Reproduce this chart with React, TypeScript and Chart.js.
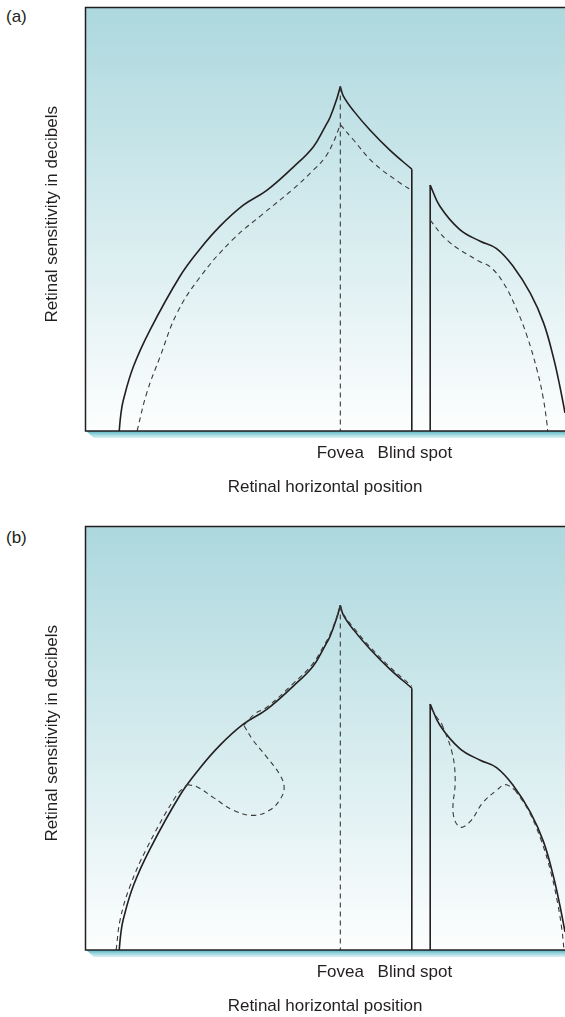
import React, { useEffect, useRef } from 'react';
import { Chart, registerables } from 'chart.js';

Chart.register(...registerables);

// ---- axis extents (x: eccentricity units, fovea = 0; y: sensitivity units) ----
const X_MIN = -50;
const X_MAX = 44;
const Y_MIN = 0;
const Y_MAX = 40;

// ---- tick labels and titles ----
const tickValues = [0, 14.6];
const tickLabels = ['Fovea', 'Blind spot'];
const xTitle = 'Retinal horizontal position';
const yTitle = '  Retinal sensitivity in decibels';
const panelLabels = ['(a)', '(b)'];

// ---- solid curve (normal field), same in both panels ----
const solidLeft = [[-43.3, 0], [-43.0, 1.5], [-42.5, 2.9], [-40.5, 6.1], [-37.3, 9.5], [-31.4, 14.6], [-27.6, 17.1], [-23.6, 19.3], [-19.0, 21.3], [-14.4, 22.7], [-9.2, 24.9], [-5.3, 26.8], [-3.0, 28.7], [-2.0, 29.6], [-0.65, 31.4], [0, 32.5]];
const solidFoveaRight = [[0, 32.5], [0.6, 31.6], [2.6, 30.2], [5.8, 28.4], [9.7, 26.5], [14.0, 24.7]];
const blindLeftEdge = [[14.0, 24.7], [14.0, 0]];
const blindRightEdge = [[17.6, 0], [17.6, 23.2]];
const solidRight = [[17.6, 23.2], [19.5, 21.2], [23.4, 19.0], [27.4, 17.9], [30.6, 17.2], [33.9, 15.5], [37.2, 13.0], [39.8, 10.2], [41.7, 7.0], [43.0, 4.2], [44.0, 1.7], [44.6, 0]];

// ---- fovea dashed vertical ----
const foveaLine = [[0, 32.5], [0, 0]];

// ---- panel (a) dashed curve ----
const dashedLeftA = [[-39.8, 0], [-37.9, 3.6], [-35.3, 7.0], [-32.0, 11.1], [-27.5, 14.5], [-21.2, 18.0], [-15.1, 20.5], [-9.3, 22.8], [-5.3, 24.6], [-3.0, 25.8], [-1.4, 27.2], [0, 28.9]];
const dashedMidA = [[0, 28.9], [2.5, 27.5], [6.5, 25.3], [11.7, 23.4], [14.0, 22.7]];
const dashedRightA = [[17.6, 19.9], [20.9, 18.0], [26.8, 16.1], [29.3, 15.5], [31.9, 14.0], [34.6, 11.4], [36.6, 8.9], [38.5, 5.8], [39.7, 3.2], [40.5, 0.6], [40.6, 0]];

// ---- panel (b) dashed curve (with scotomas) ----
const dashedLeftB = [[-43.9, 0], [-43.1, 2.9], [-41.2, 6.0], [-37.9, 9.6], [-32.2, 14.5], [-30.0, 15.6]];
const scotomaLeftB = [[-30.0, 15.6], [-28.1, 15.4], [-24.9, 14.4], [-21.0, 13.2], [-17.1, 12.7], [-13.8, 13.2], [-11.8, 14.2], [-11.0, 15.3], [-11.8, 16.5], [-14.4, 18.2], [-17.1, 19.8], [-18.9, 21.2]];
const dashedUpperB = [[-18.9, 21.2], [-16.7, 22.3], [-14.4, 22.9], [-9.3, 25.1], [-5.4, 27.0], [-3.0, 28.9], [-2.0, 29.8], [-0.65, 31.5], [0, 32.5]];
const dashedMidB = [[0, 32.5], [0.6, 31.7], [2.6, 30.4], [5.8, 28.6], [9.7, 26.7], [14.0, 24.9]];
const dashedRightTopB = [[17.8, 22.8], [18.7, 22.1], [19.9, 21.3]];
const scotomaRightB = [[19.9, 21.3], [21.9, 18.6], [22.5, 16.0], [22.1, 12.9], [23.4, 11.6], [25.4, 12.1], [27.9, 13.9], [30.7, 15.1], [32.3, 15.6], [34.2, 15.1]];
const dashedRightB = [[34.2, 15.1], [36.8, 13.2], [39.3, 10.4], [41.3, 7.2], [42.6, 4.3], [43.4, 1.9], [43.8, 0]];

const FONT = '"Liberation Sans", Arial, Helvetica, sans-serif';
const INK = '#231f20';
const DASH_INK = '#3a3a3a';

type Mode = 'curve' | 'straight';

function ds(points: number[][], dashed: boolean, mode: Mode) {
  return {
    data: points.map(([x, y]) => ({ x, y })),
    borderColor: dashed ? DASH_INK : INK,
    borderWidth: dashed ? 1.1 : 1.6,
    borderDash: dashed ? [5, 4] : [],
    pointRadius: 0,
    fill: false,
    tension: mode === 'curve' ? 0.4 : 0,
  };
}

const decorPlugin = {
  id: 'panelDecor',
  beforeDatasetsDraw(chart: any) {
    const { ctx, chartArea } = chart;
    const { left, right, top, bottom } = chartArea;
    ctx.save();
    const g = ctx.createLinearGradient(0, top, 0, bottom);
    g.addColorStop(0, '#acd8de');
    g.addColorStop(1, '#fdfefe');
    ctx.fillStyle = g;
    ctx.fillRect(left, top, right - left, bottom - top);
    ctx.restore();
  },
  afterDatasetsDraw(chart: any) {
    const { ctx, chartArea } = chart;
    const { left, right, top, bottom } = chartArea;
    ctx.save();
    // shadow band under the baseline
    const sg = ctx.createLinearGradient(0, bottom, 0, bottom + 7);
    sg.addColorStop(0, '#4fb2c1');
    sg.addColorStop(1, 'rgba(200,234,239,0.7)');
    ctx.fillStyle = sg;
    ctx.beginPath();
    ctx.moveTo(left + 1, bottom);
    ctx.lineTo(right + 2, bottom);
    ctx.lineTo(right + 2, bottom + 7);
    ctx.lineTo(left + 9, bottom + 7);
    ctx.closePath();
    ctx.fill();
    // frame: top, left, bottom
    ctx.strokeStyle = INK;
    ctx.lineWidth = 1.5;
    ctx.beginPath();
    ctx.moveTo(right + 2, top + 0.5);
    ctx.lineTo(left + 0.5, top + 0.5);
    ctx.lineTo(left + 0.5, bottom);
    ctx.lineTo(right + 2, bottom);
    ctx.stroke();
    ctx.restore();
  },
};

function makeConfig(panel: number): any {
  const solids = [
    ds(solidLeft, false, 'curve'),
    ds(solidFoveaRight, false, 'curve'),
    ds(blindLeftEdge, false, 'straight'),
    ds(blindRightEdge, false, 'straight'),
    ds(solidRight, false, 'curve'),
  ];
  const dashes =
    panel === 0
      ? [
          ds(foveaLine, true, 'straight'),
          ds(dashedLeftA, true, 'curve'),
          ds(dashedMidA, true, 'curve'),
          ds(dashedRightA, true, 'curve'),
        ]
      : [
          ds(foveaLine, true, 'straight'),
          ds(dashedLeftB, true, 'curve'),
          ds(scotomaLeftB, true, 'curve'),
          ds(dashedUpperB, true, 'curve'),
          ds(dashedMidB, true, 'curve'),
          ds(dashedRightTopB, true, 'curve'),
          ds(scotomaRightB, true, 'curve'),
          ds(dashedRightB, true, 'curve'),
        ];
  return {
    type: 'line',
    data: { datasets: [...dashes, ...solids] },
    options: {
      animation: false,
      responsive: false,
      events: [],
      layout: { padding: { top: 7, left: 0, right: 0, bottom: 0 } },
      plugins: {
        legend: { display: false },
        tooltip: { enabled: false },
        title: { display: false },
      },
      scales: {
        x: {
          type: 'linear',
          min: X_MIN,
          max: X_MAX,
          grid: { display: false, drawTicks: false },
          border: { display: false },
          afterBuildTicks: (scale: any) => {
            scale.ticks = tickValues.map((v) => ({ value: v }));
          },
          afterFit: (scale: any) => {
            scale.height = 67;
          },
          ticks: {
            autoSkip: false,
            maxRotation: 0,
            padding: 12,
            color: INK,
            font: { family: FONT, size: 17 },
            callback: (_v: any, i: number) => tickLabels[i],
          },
          title: {
            display: true,
            text: xTitle,
            color: INK,
            font: { family: FONT, size: 17 },
            padding: { top: 0, bottom: 0 },
          },
        },
        y: {
          type: 'linear',
          min: Y_MIN,
          max: Y_MAX,
          grid: { display: false, drawTicks: false },
          border: { display: false },
          ticks: { display: false },
          afterFit: (scale: any) => {
            scale.width = 85;
          },
          title: {
            display: true,
            text: yTitle,
            color: INK,
            font: { family: FONT, size: 17 },
            padding: { top: 42, bottom: 0 },
          },
        },
      },
    },
    plugins: [decorPlugin],
  };
}

function Panel({ index, top, labelTop }: { index: number; top: number; labelTop: number }) {
  const ref = useRef<HTMLCanvasElement | null>(null);
  useEffect(() => {
    if (!ref.current) return;
    const chart = new Chart(ref.current, makeConfig(index));
    return () => chart.destroy();
  }, [index]);
  return (
    <>
      <div
        style={{
          position: 'absolute',
          left: 6,
          top: labelTop,
          font: `17px ${FONT}`,
          lineHeight: '20px',
          color: INK,
        }}
      >
        {panelLabels[index]}
      </div>
      <canvas
        ref={ref}
        width={565}
        height={498}
        style={{ position: 'absolute', left: 0, top, width: 565, height: 498 }}
      />
    </>
  );
}

export default function App() {
  return (
    <div
      style={{
        position: 'absolute',
        left: 0,
        top: 0,
        width: 565,
        height: 1017,
        overflow: 'hidden',
        background: '#ffffff',
      }}
    >
      <Panel index={0} top={0} labelTop={7} />
      <Panel index={1} top={519} labelTop={528} />
    </div>
  );
}
